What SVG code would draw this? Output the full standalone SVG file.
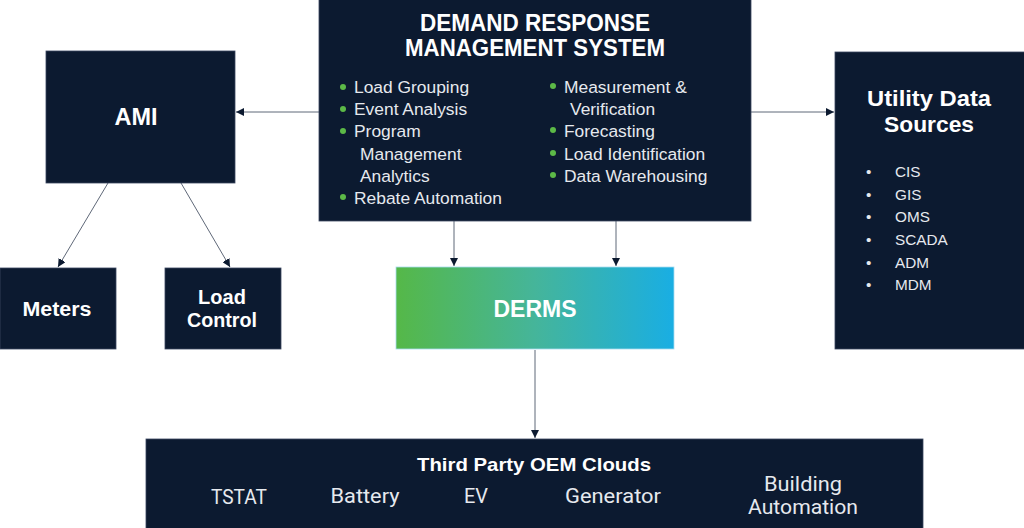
<svg xmlns="http://www.w3.org/2000/svg" width="1024" height="528" viewBox="0 0 1024 528">
<style>
.box{fill:#0c1a30;stroke:#3a4660;stroke-width:0.8}
.ttl{font-family:"Liberation Sans",Arial,sans-serif;font-weight:bold;fill:#ffffff;text-anchor:middle}
.itm{font-family:"Liberation Sans",Arial,sans-serif;fill:#e6e9ee;font-size:17.4px}
.ud{font-family:"Liberation Sans",Arial,sans-serif;fill:#e6e9ee;font-size:15.3px}
.bot{font-family:"Roboto","Liberation Sans",sans-serif;fill:#e6e9ee;font-size:20px;text-anchor:middle}
.gb{fill:#5cb947}
.con{stroke:#5f6878;stroke-width:1;fill:none}
</style>
<defs>
<linearGradient id="g" x1="0" y1="0" x2="1" y2="0">
<stop offset="0" stop-color="#55b848"/>
<stop offset="0.5" stop-color="#45b59a"/>
<stop offset="1" stop-color="#19aee3"/>
</linearGradient>
<marker id="ah" viewBox="0 0 10 10" refX="10" refY="5" markerWidth="8" markerHeight="8" markerUnits="userSpaceOnUse" orient="auto">
<path d="M0,0 L10,5 L0,10 z" fill="#0c1a30"/>
</marker>
</defs>
<rect width="1024" height="528" fill="#ffffff"/>
<g id="connectors">
<line class="con" x1="319" y1="112" x2="236" y2="112" marker-end="url(#ah)"/>
<line class="con" x1="751" y1="112" x2="834" y2="112" marker-end="url(#ah)"/>
<line class="con" x1="108" y1="183" x2="58" y2="267" marker-end="url(#ah)"/>
<line class="con" x1="181" y1="183" x2="230" y2="267" marker-end="url(#ah)"/>
<line class="con" x1="454" y1="221" x2="454" y2="266" marker-end="url(#ah)"/>
<line class="con" x1="616" y1="221" x2="616" y2="266" marker-end="url(#ah)"/>
<line class="con" x1="535" y1="350" x2="535" y2="438" marker-end="url(#ah)"/>
</g>
<g id="drms">
<rect class="box" x="319" y="-1" width="432" height="222"/>
<text class="ttl" x="535" y="31" font-size="23" textLength="230" lengthAdjust="spacingAndGlyphs">DEMAND RESPONSE</text>
<text class="ttl" x="535" y="56" font-size="23" textLength="260" lengthAdjust="spacingAndGlyphs">MANAGEMENT SYSTEM</text>
<circle class="gb" cx="343" cy="87" r="3"/>
<text class="itm" x="354" y="93">Load Grouping</text>
<circle class="gb" cx="343" cy="109" r="3"/>
<text class="itm" x="354" y="115">Event Analysis</text>
<circle class="gb" cx="343" cy="131" r="3"/>
<text class="itm" x="354" y="137">Program</text>
<text class="itm" x="360" y="160">Management</text>
<text class="itm" x="360" y="182">Analytics</text>
<circle class="gb" cx="343" cy="197" r="3"/>
<text class="itm" x="354" y="204">Rebate Automation</text>
<circle class="gb" cx="553" cy="86" r="3"/>
<text class="itm" x="564" y="93">Measurement &amp;</text>
<text class="itm" x="570" y="115">Verification</text>
<circle class="gb" cx="553" cy="130" r="3"/>
<text class="itm" x="564" y="137">Forecasting</text>
<circle class="gb" cx="553" cy="153" r="3"/>
<text class="itm" x="564" y="160">Load Identification</text>
<circle class="gb" cx="553" cy="175" r="3"/>
<text class="itm" x="564" y="182">Data Warehousing</text>
</g>
<g id="ami">
<rect class="box" x="46" y="51" width="189" height="132"/>
<text class="ttl" x="136" y="125" font-size="24" textLength="43" lengthAdjust="spacingAndGlyphs">AMI</text>
</g>
<g id="meters">
<rect class="box" x="0" y="268" width="116" height="81"/>
<text class="ttl" x="57" y="316" font-size="20" textLength="69" lengthAdjust="spacingAndGlyphs">Meters</text>
</g>
<g id="loadcontrol">
<rect class="box" x="165" y="268" width="116" height="81"/>
<text class="ttl" x="222" y="304" font-size="20">Load</text>
<text class="ttl" x="222" y="327" font-size="20" textLength="70" lengthAdjust="spacingAndGlyphs">Control</text>
</g>
<g id="utility">
<rect class="box" x="835" y="52" width="190" height="297"/>
<text class="ttl" x="929" y="106" font-size="22" textLength="124" lengthAdjust="spacingAndGlyphs">Utility Data</text>
<text class="ttl" x="929" y="132" font-size="22" textLength="90" lengthAdjust="spacingAndGlyphs">Sources</text>
<g class="ud">
<text x="866" y="177">•</text><text x="895" y="177">CIS</text>
<text x="866" y="200">•</text><text x="895" y="200">GIS</text>
<text x="866" y="222">•</text><text x="895" y="222">OMS</text>
<text x="866" y="245">•</text><text x="895" y="245">SCADA</text>
<text x="866" y="268">•</text><text x="895" y="268">ADM</text>
<text x="866" y="290">•</text><text x="895" y="290">MDM</text>
</g>
</g>
<g id="derms">
<rect x="396" y="267" width="278" height="82" fill="url(#g)" stroke="#a8dcef" stroke-width="0.8"/>
<text class="ttl" x="535" y="317" font-size="23" textLength="83" lengthAdjust="spacingAndGlyphs">DERMS</text>
</g>
<g id="thirdparty">
<rect class="box" x="146" y="439" width="777" height="90"/>
<text class="ttl" x="534" y="471" font-size="19" textLength="234" lengthAdjust="spacingAndGlyphs">Third Party OEM Clouds</text>
<text class="bot" x="239" y="504" textLength="56" lengthAdjust="spacingAndGlyphs">TSTAT</text>
<text class="bot" x="365" y="503" textLength="69" lengthAdjust="spacingAndGlyphs">Battery</text>
<text class="bot" x="476" y="503" textLength="24" lengthAdjust="spacingAndGlyphs">EV</text>
<text class="bot" x="613" y="503" textLength="96" lengthAdjust="spacingAndGlyphs">Generator</text>
<text class="bot" x="803" y="491" textLength="78" lengthAdjust="spacingAndGlyphs">Building</text>
<text class="bot" x="803" y="514" textLength="110" lengthAdjust="spacingAndGlyphs">Automation</text>
</g>
</svg>
